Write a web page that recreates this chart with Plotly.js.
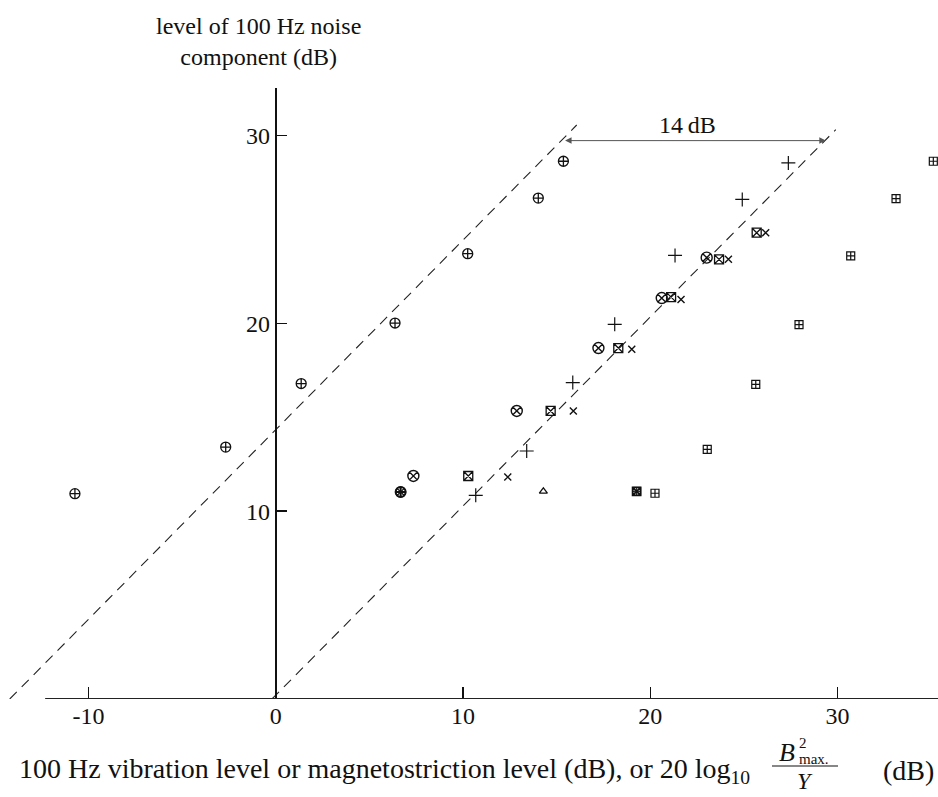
<!DOCTYPE html>
<html>
<head>
<meta charset="utf-8">
<script src="https://cdn.plot.ly/plotly-3.0.1.min.js"></script>
<style>
html,body{margin:0;padding:0;background:#fff;}
#chart{width:938px;height:797px;}
</style>
</head>
<body>
<div id="chart"></div>
<script>
// ---- data ----
const circlePlusX = [-10.72, -2.67, 1.36, 6.37, 10.25, 14.02, 15.36];
const circlePlusY = [10.93, 13.41, 16.79, 20.01, 23.70, 26.66, 28.62];
const circleXX = [7.35, 12.87, 17.23, 20.61, 23.01];
const circleXY = [11.87, 15.33, 18.68, 21.34, 23.49];
const squareXX = [10.28, 14.68, 18.29, 21.11, 23.67, 25.68];
const squareXY = [11.87, 15.33, 18.68, 21.39, 23.40, 24.82];
const plusX = [10.68, 13.40, 15.86, 18.10, 21.32, 24.91, 27.37];
const plusY = [10.84, 13.20, 16.84, 19.94, 23.61, 26.59, 28.53];
const crossX = [12.39, 15.89, 19.01, 21.64, 24.17, 26.16];
const crossY = [11.81, 15.33, 18.61, 21.26, 23.40, 24.82];
const squarePlusX = [20.25, 23.04, 25.63, 27.94, 30.70, 33.12, 35.11];
const squarePlusY = [10.95, 13.29, 16.75, 19.93, 23.58, 26.63, 28.62];
const blotCircleX = [6.67];
const blotCircleY = [11.02];
const blotSquareX = [19.27];
const blotSquareY = [11.05];
const triangleX = [14.29];
const triangleY = [11.05];
// dashed reference lines (14 dB apart)
const upperLineX = [-14.2, 16.07];
const upperLineY = [0, 30.55];
const lowerLineX = [-0.2, 29.9];
const lowerLineY = [0, 30.3];
const arrowY = 29.72;
const arrowFromX = 15.45;
const arrowToX = 29.45;
const arrowLabel = '14\u2009dB';
const xTickVals = [-10, 0, 10, 20, 30];
const xTickText = ['-10', '0', '10', '20', '30'];
const yTickVals = [10, 20, 30];
const yTickText = ['10', '20', '30'];
const xAxisStart = -12.31;

const FONT = '"Liberation Serif", serif';
const INK = '#111';

const xRange = [-14.293, 35.36];
const yRange = [0, 32.52];
const yAxisPos = (0 - xRange[0]) / (xRange[1] - xRange[0]);

// pixel helpers for paper placement of the title pieces
const L = 8, T = 88, W = 930, H = 611;
const px = p => (p - L) / W;
const py = p => (T + H - p) / H;

function mk(x, y, symbol, size, width) {
  return {
    type: 'scatter', mode: 'markers', x: x, y: y, cliponaxis: false,
    marker: {symbol: symbol, size: size, color: INK, line: {color: INK, width: width}},
    hoverinfo: 'x+y', showlegend: false
  };
}

const dash = '10px,7px';
const traces = [
  {type: 'scatter', mode: 'lines', x: upperLineX, y: upperLineY,
   line: {color: '#222', width: 1.1, dash: dash}, showlegend: false, hoverinfo: 'skip'},
  {type: 'scatter', mode: 'lines', x: lowerLineX, y: lowerLineY,
   line: {color: '#222', width: 1.1, dash: dash}, showlegend: false, hoverinfo: 'skip'},
  mk(circlePlusX, circlePlusY, 'circle-cross-open', 10, 1.3),
  mk(circleXX, circleXY, 'circle-x-open', 11, 1.4),
  mk(squareXX, squareXY, 'square-x-open', 9, 1.3),
  mk(plusX, plusY, 'cross-thin-open', 10, 1.2),
  mk(crossX, crossY, 'x-thin-open', 7, 1.4),
  mk(squarePlusX, squarePlusY, 'square-cross-open', 8, 1.2),
  mk(blotCircleX, blotCircleY, 'circle-cross-open', 10, 2.0),
  mk(blotCircleX, blotCircleY, 'circle-x-open', 10, 1.2),
  mk(blotSquareX, blotSquareY, 'square-x-open', 8, 1.8),
  mk(blotSquareX, blotSquareY, 'square-cross-open', 8, 1.0),
  mk(triangleX, triangleY, 'triangle-up-open', 7, 1.3)
];

const tfont = {family: FONT, size: 24, color: INK};
const layout = {
  width: 938, height: 797,
  margin: {l: L, r: 0, t: T, b: 797 - T - H, pad: 0},
  paper_bgcolor: '#fff', plot_bgcolor: 'rgba(0,0,0,0)',
  showlegend: false,
  font: {family: FONT, color: INK, size: 22},
  xaxis: {
    range: xRange, domain: [0, 1], showgrid: false, zeroline: false, showline: false,
    tickmode: 'array', tickvals: xTickVals, ticktext: xTickText,
    ticks: 'inside', ticklen: 12, tickwidth: 1.4, tickcolor: INK,
    tickfont: tfont, fixedrange: true
  },
  yaxis: {
    range: yRange, domain: [0, 1], anchor: 'free', position: yAxisPos, side: 'left',
    showgrid: false, zeroline: false, showline: true, linecolor: INK, linewidth: 2,
    tickmode: 'array', tickvals: yTickVals, ticktext: yTickText,
    ticks: 'inside', ticklen: 10, tickwidth: 1.4, tickcolor: INK,
    tickfont: tfont, fixedrange: true
  },
  shapes: [
    {type: 'line', xref: 'x', yref: 'y', x0: xAxisStart, x1: xRange[1], y0: 0, y1: 0,
     line: {color: '#222', width: 2}},
    {type: 'line', xref: 'paper', yref: 'paper', x0: px(772), x1: px(838), y0: py(766), y1: py(766),
     line: {color: INK, width: 1.2}}
  ],
  annotations: [
    {xref: 'x', yref: 'y', axref: 'x', ayref: 'y', x: arrowFromX, y: arrowY, ax: arrowToX, ay: arrowY,
     showarrow: true, arrowside: 'end+start', arrowhead: 2, startarrowhead: 2, arrowsize: 1.3, startarrowsize: 1.3,
     arrowwidth: 1, arrowcolor: '#555', text: ''},
    {xref: 'paper', yref: 'paper', x: px(687), y: py(125), xanchor: 'center', yanchor: 'middle', showarrow: false,
     text: arrowLabel, font: {family: FONT, size: 24, color: INK}},
    {xref: 'paper', yref: 'paper', x: px(258), y: py(11), xanchor: 'center', yanchor: 'top', showarrow: false,
     align: 'center', text: 'level of 100 Hz noise<br>component (dB)', font: {family: FONT, size: 24, color: INK}},
    {xref: 'paper', yref: 'paper', x: px(752), y: py(770), xanchor: 'right', yanchor: 'middle', showarrow: false,
     text: '100 Hz vibration level or magnetostriction level (dB), or 20 log<sub>10</sub>',
     font: {family: FONT, size: 28, color: INK}},
    {xref: 'paper', yref: 'paper', x: px(787), y: py(752), xanchor: 'center', yanchor: 'middle', showarrow: false,
     text: '<i>B</i>', font: {family: FONT, size: 26, color: INK}},
    {xref: 'paper', yref: 'paper', x: px(797), y: py(743), xanchor: 'left', yanchor: 'middle', showarrow: false,
     text: '2', font: {family: FONT, size: 15, color: INK}},
    {xref: 'paper', yref: 'paper', x: px(797), y: py(759), xanchor: 'left', yanchor: 'middle', showarrow: false,
     text: 'max.', font: {family: FONT, size: 15, color: INK}},
    {xref: 'paper', yref: 'paper', x: px(805), y: py(781), xanchor: 'center', yanchor: 'middle', showarrow: false,
     text: '<i>Y</i>', font: {family: FONT, size: 24, color: INK}},
    {xref: 'paper', yref: 'paper', x: px(936), y: py(770), xanchor: 'right', yanchor: 'middle', showarrow: false,
     text: '(dB)', font: {family: FONT, size: 28, color: INK}}
  ]
};

Plotly.newPlot('chart', traces, layout, {displayModeBar: false, staticPlot: true});
</script>
</body>
</html>
